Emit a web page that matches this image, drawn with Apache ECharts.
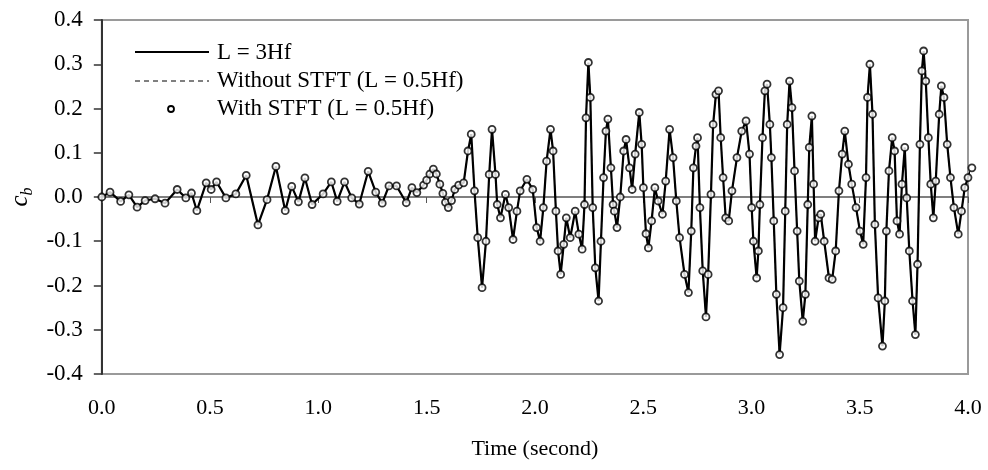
<!DOCTYPE html>
<html>
<head>
<meta charset="utf-8">
<script src="https://cdn.jsdelivr.net/npm/echarts@6/dist/echarts.min.js"></script>
<style>
html,body{margin:0;padding:0;background:#fff;}
#chart{width:988px;height:470px;}
</style>
</head>
<body>
<div id="chart"></div>
<script>
var timeSec = [
0.000,0.038,0.087,0.125,0.163,0.200,0.246,0.292,0.348,0.388,0.414,0.439,0.482,0.505,0.530,0.573,0.619,0.667,0.721,0.763,
0.804,0.847,0.877,0.908,0.938,0.971,1.022,1.060,1.087,1.121,1.154,1.189,1.230,1.265,1.295,1.326,1.361,1.406,1.432,1.455,
1.486,1.500,1.515,1.531,1.545,1.561,1.575,1.587,1.600,1.615,1.630,1.648,1.671,1.691,1.706,1.721,1.736,1.756,1.774,1.789,1.802,1.818,1.826,1.841,1.864,1.879,1.899,
1.917,1.932,1.963,1.990,2.008,2.024,2.039,2.054,2.072,2.084,2.097,2.107,2.119,2.133,2.145,2.163,2.186,2.203,2.218,2.229,
2.236,2.247,2.256,2.267,2.279,2.294,2.305,2.317,2.328,2.337,2.351,2.361,2.367,2.379,2.394,2.410,2.421,2.437,2.449,2.463,
2.482,2.493,2.501,2.513,2.524,2.539,2.554,2.569,2.589,2.604,2.622,2.638,2.653,2.668,2.691,2.709,2.722,2.732,2.744,2.751,
2.762,2.775,2.790,2.800,2.813,2.823,2.836,2.848,2.858,2.869,2.881,2.895,2.910,2.933,2.955,2.975,2.991,3.001,3.009,3.024,
3.032,3.039,3.051,3.062,3.072,3.085,3.092,3.103,3.115,3.130,3.146,3.156,3.165,3.176,3.187,3.199,3.211,3.221,3.237,3.249,
3.260,3.267,3.279,3.287,3.294,3.310,3.320,3.336,3.358,3.373,3.389,3.404,3.419,3.431,3.448,3.463,3.483,3.501,3.516,3.529,
3.536,3.547,3.559,3.570,3.585,3.605,3.616,3.623,3.635,3.650,3.661,3.672,3.684,3.695,3.708,3.717,3.729,3.744,3.757,3.767,
3.778,3.787,3.795,3.805,3.817,3.828,3.840,3.851,3.867,3.877,3.889,3.904,3.919,3.935,3.955,3.970,3.985,4.000,4.018
];
// c_b values, L = 3Hf (the other two series overlay it)
var cbL3Hf = [
0.000,0.011,-0.010,0.005,-0.023,-0.008,-0.004,-0.014,0.017,-0.002,0.009,-0.031,0.032,0.017,0.034,-0.002,0.007,0.049,-0.063,-0.006,
0.069,-0.031,0.024,-0.011,0.043,-0.017,0.007,0.034,-0.010,0.034,-0.002,-0.016,0.058,0.011,-0.014,0.025,0.025,-0.013,0.021,0.010,
0.027,0.038,0.052,0.063,0.052,0.029,0.008,-0.012,-0.024,-0.008,0.017,0.027,0.032,0.104,0.142,0.014,-0.092,-0.205,-0.100,0.051,0.153,0.051,-0.017,-0.047,0.006,-0.024,-0.096,
-0.032,0.014,0.040,0.017,-0.069,-0.100,-0.024,0.081,0.153,0.104,-0.032,-0.122,-0.175,-0.107,-0.047,-0.092,-0.032,-0.084,-0.118,-0.017,
0.179,0.304,0.225,-0.024,-0.160,-0.235,-0.100,0.044,0.149,0.176,0.066,-0.017,-0.032,-0.069,0.000,0.104,0.130,0.066,0.017,0.097,
0.191,0.119,0.021,-0.083,-0.115,-0.054,0.021,-0.009,-0.039,0.036,0.153,0.089,-0.009,-0.092,-0.175,-0.216,-0.077,0.066,0.115,0.134,
-0.024,-0.167,-0.271,-0.175,0.006,0.164,0.232,0.240,0.134,0.044,-0.047,-0.054,0.014,0.089,0.149,0.172,0.097,-0.024,-0.100,-0.183,
-0.122,-0.017,0.134,0.240,0.255,0.164,0.089,-0.054,-0.220,-0.356,-0.250,-0.032,0.164,0.262,0.202,0.059,-0.077,-0.190,-0.281,-0.220,
-0.017,0.112,0.183,0.029,-0.100,-0.047,-0.039,-0.100,-0.183,-0.186,-0.122,0.014,0.097,0.149,0.074,0.029,-0.024,-0.077,-0.107,0.044,
0.225,0.300,0.187,-0.062,-0.228,-0.337,-0.235,-0.077,0.059,0.134,0.104,-0.054,-0.084,0.029,0.112,-0.002,-0.122,-0.235,-0.311,-0.152,
0.119,0.285,0.330,0.262,0.134,0.029,-0.047,0.036,0.187,0.251,0.225,0.119,0.044,-0.024,-0.084,-0.032,0.021,0.044,0.066
];
var cbWithoutSTFT = cbL3Hf;
var cbWithSTFT = cbL3Hf;

var seriesNames = ['L = 3Hf', 'Without STFT (L = 0.5Hf)', 'With STFT (L = 0.5Hf)'];
var xTicks = [0, 4, 0.5];
var yTicks = [-0.4, 0.4, 0.1];

function pairs(vals) {
  return timeSec.map(function (t, i) { return [t, vals[i]]; });
}

var FONT = '"Liberation Serif", "Times New Roman", serif';
var chart = echarts.init(document.getElementById('chart'), null, {renderer: 'canvas'});

var option = {
  animation: false,
  backgroundColor: '#fff',
  grid: {
    left: 91, right: 20, top: 20, bottom: 96,
    show: true, borderColor: '#9a9a9a', borderWidth: 2, backgroundColor: 'transparent'
  },
  xAxis: [
    {
      type: 'value', min: xTicks[0], max: xTicks[1], interval: xTicks[2],
      axisLine: {show: true, onZero: true, lineStyle: {color: '#555', width: 1.5}},
      axisTick: {show: true, inside: false, length: 6, lineStyle: {color: '#555', width: 1}},
      axisLabel: {show: false},
      splitLine: {show: false}
    },
    {
      type: 'value', min: xTicks[0], max: xTicks[1], interval: xTicks[2], position: 'bottom',
      axisLine: {show: false, onZero: false},
      axisTick: {show: false},
      axisLabel: {
        show: true, margin: 23, color: '#000', fontFamily: FONT, fontSize: 22,
        formatter: function (v) { return v.toFixed(1); }
      },
      splitLine: {show: false},
      name: 'Time (second)', nameLocation: 'middle', nameGap: 64,
      nameTextStyle: {color: '#000', fontFamily: FONT, fontSize: 22}
    }
  ],
  yAxis: {
    type: 'value', min: yTicks[0], max: yTicks[1], interval: yTicks[2],
    axisLine: {show: true, onZero: false, lineStyle: {color: '#333', width: 2}},
    axisTick: {show: true, inside: false, length: 8, lineStyle: {color: '#333', width: 1.5}},
    axisLabel: {
      margin: 19, color: '#000', fontFamily: FONT, fontSize: 23,
      formatter: function (v) { return v.toFixed(1); }
    },
    splitLine: {show: false},
    name: '{c|c}{b|b}', nameLocation: 'middle', nameRotate: 90, nameGap: 61,
    nameTextStyle: {
      rich: {
        c: {fontFamily: FONT, fontStyle: 'italic', fontSize: 25, color: '#000', lineHeight: 30, verticalAlign: 'middle'},
        b: {fontFamily: FONT, fontStyle: 'italic', fontSize: 16, color: '#000', lineHeight: 14, verticalAlign: 'bottom'}
      }
    }
  },
  series: [
    {
      name: seriesNames[0], type: 'line', xAxisIndex: 0, data: pairs(cbL3Hf),
      symbol: 'none', clip: false,
      lineStyle: {color: '#000', width: 2.2}, z: 3
    },
    {
      name: seriesNames[1], type: 'line', xAxisIndex: 0, data: pairs(cbWithoutSTFT),
      symbol: 'none', clip: false,
      lineStyle: {color: '#000', width: 1, type: [5, 4]}, z: 4
    },
    {
      name: seriesNames[2], type: 'scatter', xAxisIndex: 0, data: pairs(cbWithSTFT),
      symbol: 'circle', symbolSize: 7, clip: false,
      itemStyle: {color: '#fff', borderColor: '#000', borderWidth: 1.8}, z: 5
    }
  ],
  graphic: [
    {type: 'line', shape: {x1: 135, y1: 52, x2: 209, y2: 52}, style: {stroke: '#000', lineWidth: 2}, z: 10},
    {type: 'text', style: {x: 217, y: 53, text: seriesNames[0], font: '23px ' + FONT, fill: '#000', verticalAlign: 'middle', textVerticalAlign: 'middle'}, z: 10},
    {type: 'line', shape: {x1: 135, y1: 81, x2: 209, y2: 81}, style: {stroke: '#000', lineWidth: 1, lineDash: [5, 4]}, z: 10},
    {type: 'text', style: {x: 217, y: 81, text: seriesNames[1], font: '23px ' + FONT, fill: '#000', verticalAlign: 'middle', textVerticalAlign: 'middle'}, z: 10},
    {type: 'circle', shape: {cx: 171, cy: 109, r: 3}, style: {fill: '#fff', stroke: '#000', lineWidth: 1.8}, z: 10},
    {type: 'text', style: {x: 217, y: 109, text: seriesNames[2], font: '23px ' + FONT, fill: '#000', verticalAlign: 'middle', textVerticalAlign: 'middle'}, z: 10}
  ]
};
chart.setOption(option);
</script>
</body>
</html>
